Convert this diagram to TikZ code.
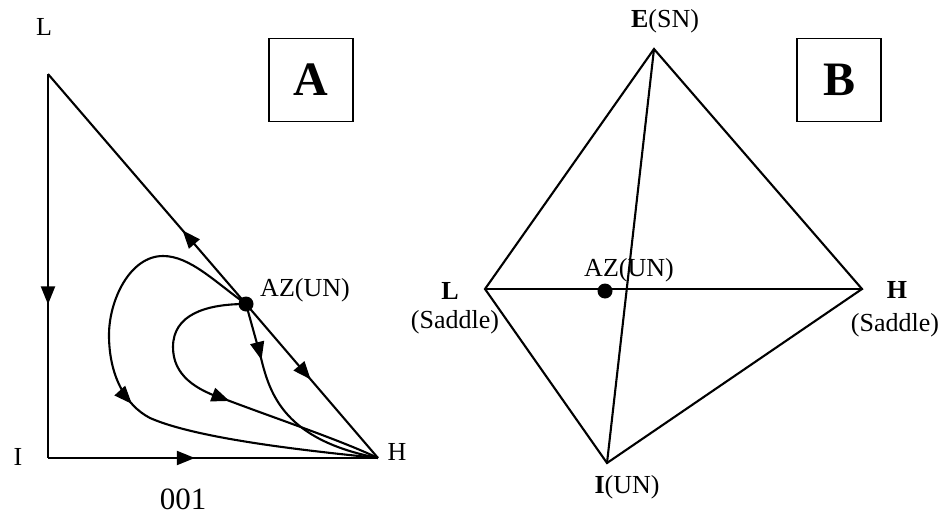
\documentclass[tikz,border=0pt]{standalone}
\usepackage{fontspec}
\setmainfont{Liberation Serif}
\usetikzlibrary{arrows.meta,decorations.markings}
\tikzset{
  ln/.style={line width=2.1pt},
  midarrow/.style={postaction={decorate},
    decoration={markings, mark=at position #1 with {\arrow{Triangle[length=18pt,width=14pt]}}}},
  lbl/.style={font=\fontsize{26}{30}\selectfont, inner sep=0pt},
  biglbl/.style={font=\fontsize{31}{34}\selectfont, inner sep=0pt},
  panelbox/.style={draw, line width=1.5pt, minimum width=84pt, minimum height=83pt, inner sep=0pt,
    font=\fontsize{48}{50}\selectfont\bfseries},
  dot/.style={circle, fill, inner sep=0pt, minimum size=15pt}
}
\begin{document}
\begin{tikzpicture}[x=1pt,y=-1pt]
\useasboundingbox (0,0) rectangle (941,516);
% ---------- Panel A ----------
\coordinate (AL) at (48,74);
\coordinate (AI) at (48,458);
\coordinate (AH) at (378,458);
\node[dot] (AAZ) at (246,304) {};
\draw[ln, midarrow=0.6] (AL) -- (AI);
\draw[ln, midarrow=0.445] (AI) -- (AH);
\draw[ln, midarrow=0.32] (AAZ.center) -- (AL);
\draw[ln, midarrow=0.49] (AAZ.center) -- (AH);
% outer loop
\draw[ln, midarrow=0.52] (AAZ.center) .. controls (215,282) and (190,256) .. (163,256)
  .. controls (130,256) and (109,300) .. (109,335)
  .. controls (109,375) and (125,405) .. (150,418)
  .. controls (200,440) and (320,452) .. (AH);
% inner loop
\draw[ln, midarrow=0.53] (AAZ.center) .. controls (205,304) and (173,315) .. (173,347)
  .. controls (173,375) and (195,390) .. (227,400)
  .. controls (280,420) and (340,440) .. (AH);
% middle curve
\draw[ln, midarrow=58pt] (AAZ.center) -- (261,358) .. controls (270,395) and (285,440) .. (AH);
% labels A
\node[lbl] (tL) at (44,27) {L};
\node[lbl] (tI) at (18,457) {I};
\node[lbl] (tH) at (397,452) {H};
\node[biglbl] (t001) at (183,499) {001};
\node[lbl] (tAZa) at (305,290) {AZ(UN)};
\node[panelbox] (boxA) at (311,80) {A};
% ---------- Panel B ----------
\coordinate (BE) at (654,49);
\coordinate (BL) at (485,289);
\coordinate (BH) at (862,289);
\coordinate (BI) at (607,463);
\draw[ln] (BE) -- (BL) -- (BI) -- (BH) -- cycle;
\draw[ln] (BL) -- (BH);
\draw[ln] (BE) -- (BI);
\node[dot] (BAZ) at (605,291) {};
\node[lbl] (tE) at (665,21) {\textbf{E}(SN)};
\node[lbl] (tBL) at (450,291) {\textbf{L}};
\node[lbl] (tBLs) at (455,322) {(Saddle)};
\node[lbl] (tBH) at (897,290) {\textbf{H}};
\node[lbl] (tBHs) at (895,325) {(Saddle)};
\node[lbl] (tBI) at (627,487) {\textbf{I}(UN)};
\node[lbl] (tAZb) at (629,270) {AZ(UN)};
\node[panelbox] (boxB) at (839,80) {B};
\end{tikzpicture}
\end{document}
